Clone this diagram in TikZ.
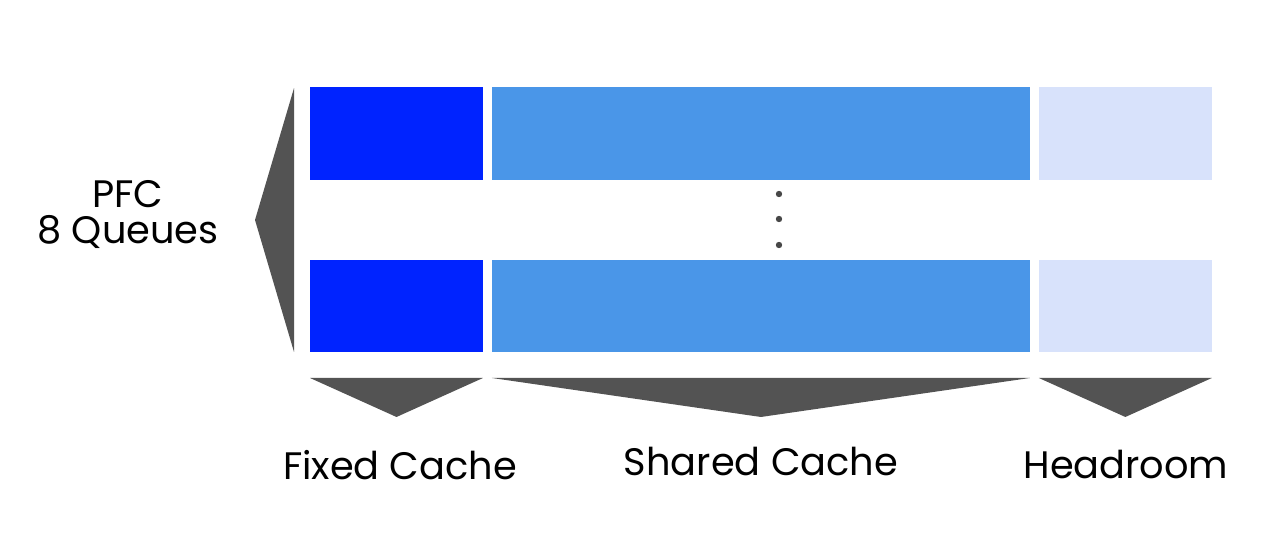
\documentclass[tikz,border=0pt]{standalone}
\usepackage{fontspec}
\setmainfont{Poppins}
\usepackage{xcolor}
\definecolor{FixedBlue}{RGB}{0,35,255}
\definecolor{SharedBlue}{RGB}{74,150,232}
\definecolor{HeadBlue}{RGB}{216,226,251}
\definecolor{MarkGray}{RGB}{83,83,83}
\usepackage{tikz}
\usetikzlibrary{positioning,calc}

\begin{document}
\begin{tikzpicture}[
    x=0.02cm,y=-0.02cm,
    font=\fontsize{21.8}{26}\selectfont,
    blk/.style={inner sep=0pt,outer sep=0pt,minimum height=1.86cm},
    narrow/.style={blk,minimum width=3.46cm},
    wide/.style={blk,minimum width=10.76cm},
    tri/.style={fill=MarkGray},
    lbl/.style={anchor=base,inner sep=0pt},
  ]
    \useasboundingbox (0,0) rectangle (1269,554);
    % top queue
    \node[narrow,fill=FixedBlue] (fix1) at (396.5,133.5) {};
    \node[wide,fill=SharedBlue,right=0.18cm of fix1] (shr1) {};
    \node[narrow,fill=HeadBlue,right=0.18cm of shr1] (head1) {};
    % bottom queue
    \node[narrow,fill=FixedBlue,minimum height=1.84cm] (fix2) at (396.5,306) {};
    \node[wide,fill=SharedBlue,minimum height=1.84cm,right=0.18cm of fix2] (shr2) {};
    \node[narrow,fill=HeadBlue,minimum height=1.84cm,right=0.18cm of shr2] (head2) {};
    % dots between the queues
    \foreach \y in {194,219,245} \fill[MarkGray!85!black] (779,\y) circle (3.2);
    % brace-like wedges
    \fill[tri] ($(fix1.north west)+(-16,1)$) -- ($(fix2.south west)+(-16,0)$) -- (255,220) -- cycle;
    \foreach \b in {fix2,shr2,head2}
      \fill[tri] ($(\b.south west)+(0,26)$) -- ($(\b.south east)+(0,26)$) -- ($(\b.south)+(0,65)$) -- cycle;
    % labels
    \node[lbl] (pfc) at (128,208) {PFC};
    \node[lbl] (queues) at (128,243) {8 Queues};
    \node[lbl] (fixlbl) at (400,479) {Fixed Cache};
    \node[lbl] (shrlbl) at (761,475) {Shared Cache};
    \node[lbl] (headlbl) at (1126,478) {Headroom};
  \end{tikzpicture}
\end{document}
